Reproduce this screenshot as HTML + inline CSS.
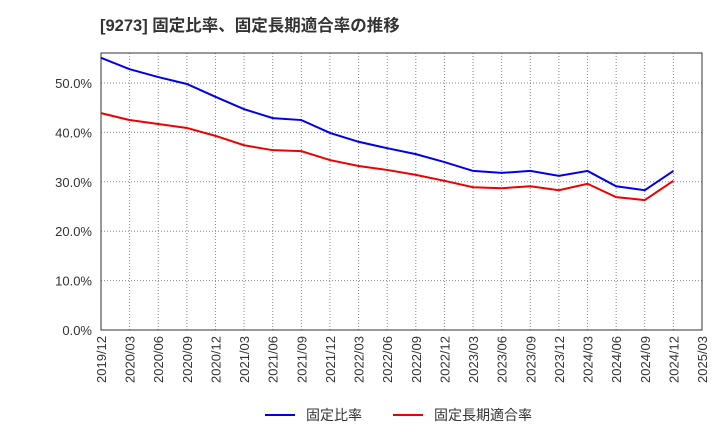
<!DOCTYPE html>
<html><head><meta charset="utf-8"><style>
body{margin:0;background:#fff;font-family:"Liberation Sans","Noto Sans CJK JP",sans-serif;}
</style></head><body>
<svg id="c" width="720" height="440" xmlns="http://www.w3.org/2000/svg">
<text x="100" y="31" font-size="16.5" font-weight="bold" fill="#333" font-family="Liberation Sans, Noto Sans CJK JP, sans-serif">[9273]  固定比率、固定長期適合率の推移</text>
<g id="grid"></g><g id="axes"></g><g id="series"></g>
<g>
<line x1="265" y1="415" x2="295" y2="415" stroke="#0000ee" stroke-width="2"/>
<text x="306" y="420" font-size="14" fill="#333">固定比率</text>
<line x1="393" y1="415" x2="423" y2="415" stroke="#ee0000" stroke-width="2"/>
<text x="434" y="420" font-size="14" fill="#333">固定長期適合率</text>
</g>
</svg>
<script>
const categories=["2019/12","2020/03","2020/06","2020/09","2020/12","2021/03","2021/06","2021/09","2021/12","2022/03","2022/06","2022/09","2022/12","2023/03","2023/06","2023/09","2023/12","2024/03","2024/06","2024/09","2024/12","2025/03"];
const fixedRatio=[55.1,52.8,51.2,49.8,47.2,44.7,42.9,42.5,39.9,38.1,36.8,35.6,34.0,32.2,31.8,32.2,31.2,32.2,29.1,28.3,32.2];
const fixedLongTermRatio=[43.9,42.5,41.7,40.9,39.3,37.4,36.4,36.2,34.4,33.2,32.4,31.4,30.2,28.9,28.7,29.1,28.3,29.6,26.9,26.3,30.2];
const yTicks=[0,10,20,30,40,50];
const NS="http://www.w3.org/2000/svg";
const L=101,R=702,T=53,B=330;
const x=i=>L+i*(R-L)/(categories.length-1);
const y=v=>B-v*4.94;
function mk(tag,attrs,parent){const e=document.createElementNS(NS,tag);for(const k in attrs)e.setAttribute(k,attrs[k]);parent.appendChild(e);return e;}
const grid=document.getElementById('grid'),axes=document.getElementById('axes'),series=document.getElementById('series');
yTicks.forEach(v=>{
 if(v>0){const g=mk('line',{x1:L,x2:R,y1:y(v),y2:y(v),stroke:'#888','stroke-dasharray':'1,2'},grid);
 
 }
 const t=mk('text',{x:92,y:y(v)+5,'font-size':13,'text-anchor':'end',fill:'#333'},axes);
 t.textContent=v.toFixed(1)+'%';
 
 
});
categories.forEach((c,i)=>{
 if(i>0&&i<categories.length-1){const g=mk('line',{x1:x(i),x2:x(i),y1:T,y2:B,stroke:'#888','stroke-dasharray':'1,2'},grid);
 
 }
 const t=mk('text',{x:0,y:0,'font-size':13,'text-anchor':'end',fill:'#333',transform:`translate(${x(i)+5},336) rotate(-90)`},axes);
 t.textContent=c;
 
 
});
const fr=mk('rect',{x:L,y:T,width:R-L,height:B-T,fill:'none',stroke:'#333'},axes);


[[fixedRatio,'#0000ee','fixed-ratio-line'],[fixedLongTermRatio,'#ee0000','fixed-long-term-ratio-line']].forEach(([d,col,n])=>{
 const p=mk('polyline',{points:d.map((v,i)=>x(i)+','+y(v)).join(' '),fill:'none',stroke:col,'stroke-width':2},series);
 
 
});
</script>
</body></html>
